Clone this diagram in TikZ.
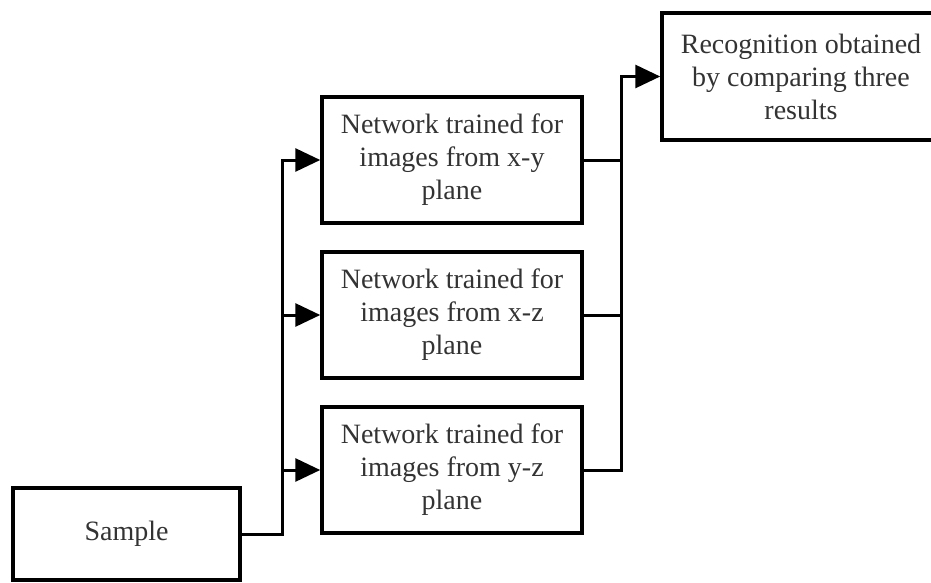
\documentclass[tikz,border=0pt]{standalone}
\usepackage{fontspec}
\setmainfont{Liberation Serif}
\usetikzlibrary{arrows.meta}
\begin{document}
\begin{tikzpicture}[x=1pt,y=-1pt,
  box/.style={draw, line width=3.5pt, minimum width=260pt, minimum height=126pt,
    align=center, font=\fontsize{28}{33}\selectfont, text=black!80, inner sep=0pt},
  conn/.style={line width=3pt},
  arr/.style={conn, -{Triangle[length=25pt,width=23pt]}}]
\useasboundingbox (0,0) rectangle (931,583);
\node[box, minimum width=227pt, minimum height=92pt] (sample) at (126.5,534) {Sample};
\node[box] (b1) at (452,160) {Network trained for\\images from x-y\\plane};
\node[box] (b2) at (452,315) {Network trained for\\images from x-z\\plane};
\node[box] (b3) at (452,470) {Network trained for\\images from y-z\\plane};
\node[box, minimum width=278pt, minimum height=127pt] (res) at (801,76.5) {Recognition obtained\\by comparing three\\results};
\coordinate (sx) at (282,0);
\coordinate (mx) at (621,0);
\draw[arr] (sample.east) -| (sx |- b1.west) -- (b1.west);
\draw[arr] (sx |- b2.west) -- (b2.west);
\draw[arr] (sx |- b3.west) -- (b3.west);
\draw[conn] (b1.east) -- (mx |- b1.east);
\draw[conn] (b2.east) -- (mx |- b2.east);
\draw[arr] (b3.east) -| (mx |- res.west) -- (res.west);
\end{tikzpicture}
\end{document}
